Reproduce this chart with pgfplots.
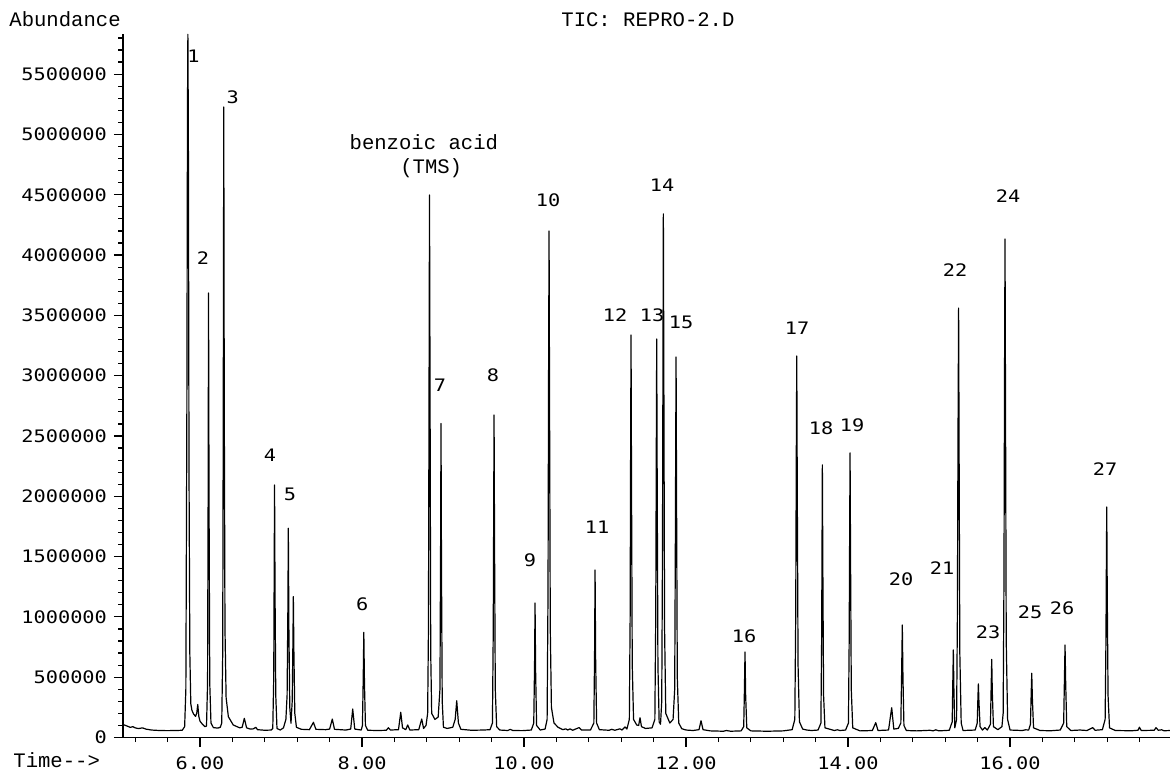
\documentclass[border=0pt]{standalone}
\usepackage{fontspec}
\usepackage{pgfplots}
\pgfplotsset{compat=1.18}
\setmainfont{Liberation Mono}
\newfontfamily\tickfont[FakeStretch=1.18]{DejaVu Sans Mono}
\newfontfamily\cour{Liberation Mono}
\newcommand\tf{\tickfont\fontsize{8.6}{10}\selectfont}
\newcommand\cf{\cour\fontsize{10.3}{12}\selectfont}
\begin{document}
\begin{tikzpicture}
\begin{axis}[
 at={(0,0)}, anchor=south west,
 scale only axis, width=523.5pt, height=351.75pt,
 xmin=5.049, xmax=17.975, ymin=0, ymax=5833000,
 axis x line*=bottom, axis y line*=left,
 axis line style={line width=0.7pt, -},
 clip=false,
 xtick={6,8,10,12,14,16},
 xticklabels={6.00,8.00,10.00,12.00,14.00,16.00},
 minor xtick={5.2,5.6,6.4,6.8,7.2,7.6,8.4,8.8,9.2,9.6,10.4,10.8,11.2,11.6,12.4,12.8,13.2,13.6,14.4,14.8,15.2,15.6,16.4,16.8,17.2,17.6},
 ytick={0,500000,1000000,1500000,2000000,2500000,3000000,3500000,4000000,4500000,5000000,5500000},
 yticklabels={0,500000,1000000,1500000,2000000,2500000,3000000,3500000,4000000,4500000,5000000,5500000},
 minor ytick={100000,200000,300000,400000,600000,700000,800000,900000,1100000,1200000,1300000,1400000,1600000,1700000,1800000,1900000,2100000,2200000,2300000,2400000,2600000,2700000,2800000,2900000,3100000,3200000,3300000,3400000,3600000,3700000,3800000,3900000,4100000,4200000,4300000,4400000,4600000,4700000,4800000,4900000,5100000,5200000,5300000,5400000,5600000,5700000,5800000},
 tick align=outside,
 major tick length=4.5pt, minor tick length=2.3pt,
 tick style={black, line width=0.6pt},
 ticklabel style={font=\tf},
 xticklabel style={yshift=-1.5pt},
 scaled y ticks=false,
]
\addplot[black, line width=0.6pt, line join=round] coordinates {
(5.049,108000)(5.08,100000)(5.11,92000)(5.14,84000)(5.17,90000)(5.20,80000)(5.24,74000)(5.29,80000)(5.33,70000)(5.40,62000)(5.50,58000)(5.60,57000)(5.70,58000)(5.78,60000)(5.81,90000)
(5.825,400000)(5.837,2600000)(5.845,5200000)(5.850,5830000)(5.856,5000000)(5.864,2200000)(5.874,700000)(5.886,280000)(5.90,225000)(5.92,195000)(5.945,175000)
(5.960,205000)(5.972,274000)(5.985,175000)(6.00,135000)(6.03,110000)(6.06,90000)
(6.080,95000)(6.093,450000)(6.100,2000000)(6.105,3686000)(6.111,2000000)(6.120,450000)(6.135,120000)(6.165,82000)(6.22,78000)(6.25,85000)
(6.268,120000)(6.280,700000)(6.287,2800000)(6.293,5228000)(6.299,2800000)(6.308,900000)(6.322,330000)(6.35,172000)(6.41,104000)(6.49,80000)(6.52,85000)
(6.547,159000)(6.575,80000)(6.62,70000)(6.66,72000)(6.688,85000)(6.71,65000)(6.80,60000)(6.88,62000)
(6.898,75000)(6.910,500000)(6.915,1300000)(6.920,2094000)(6.926,1200000)(6.935,350000)(6.950,75000)(6.99,62000)(7.03,80000)(7.06,150000)
(7.075,350000)(7.085,1100000)(7.090,1735000)(7.097,900000)(7.108,250000)(7.123,119000)
(7.138,300000)(7.147,800000)(7.152,1168000)(7.159,700000)(7.170,200000)(7.190,85000)(7.25,68000)(7.35,65000)
(7.40,126000)(7.43,68000)(7.55,65000)(7.60,70000)(7.633,153000)(7.66,68000)(7.80,62000)(7.86,70000)(7.885,236000)(7.91,70000)(7.99,62000)
(8.005,100000)(8.015,500000)(8.022,872000)(8.030,450000)(8.042,100000)(8.07,60000)(8.20,58000)(8.30,60000)(8.325,81000)(8.35,62000)(8.45,65000)(8.478,209000)(8.50,80000)(8.54,65000)(8.564,104000)(8.59,62000)(8.70,65000)(8.737,153000)(8.76,75000)(8.79,100000)
(8.810,200000)(8.820,900000)(8.827,2800000)(8.833,4498000)(8.840,2800000)(8.848,700000)(8.860,200000)(8.900,150000)(8.94,170000)
(8.962,400000)(8.970,1600000)(8.975,2604000)(8.981,1400000)(8.990,300000)(9.005,85000)(9.05,75000)(9.12,85000)
(9.150,150000)(9.169,305000)(9.190,120000)(9.22,68000)(9.35,60000)(9.50,62000)(9.58,65000)
(9.610,120000)(9.620,900000)(9.625,1800000)(9.630,2674000)(9.636,1600000)(9.645,400000)(9.662,90000)(9.70,62000)(9.80,58000)(9.83,68000)(9.86,58000)(9.98,57000)(10.09,62000)
(10.120,120000)(10.130,600000)(10.136,1115000)(10.143,550000)(10.155,100000)(10.20,62000)(10.26,70000)
(10.285,150000)(10.296,1200000)(10.303,3000000)(10.309,4200000)(10.315,2800000)(10.324,900000)(10.338,250000)(10.37,120000)(10.42,85000)(10.48,65000)(10.515,72000)(10.54,62000)(10.568,72000)(10.60,60000)(10.679,82000)(10.71,62000)(10.82,62000)
(10.862,120000)(10.871,700000)(10.877,1389000)(10.884,650000)(10.896,120000)(10.93,65000)(11.05,60000)(11.083,68000)(11.12,60000)(11.185,72000)(11.21,62000)(11.247,88000)(11.27,70000)
(11.300,150000)(11.310,1000000)(11.316,2400000)(11.321,3338000)(11.327,2100000)(11.336,600000)(11.352,150000)(11.391,104000)(11.415,100000)(11.432,164000)(11.45,90000)(11.50,75000)(11.58,80000)
(11.615,150000)(11.626,1000000)(11.633,2400000)(11.638,3304000)(11.644,2100000)(11.653,600000)(11.668,130000)(11.685,110000)
(11.700,300000)(11.709,1500000)(11.715,3100000)(11.720,4341000)(11.726,3000000)(11.735,900000)(11.750,200000)(11.80,120000)(11.84,150000)
(11.860,400000)(11.868,1600000)(11.873,2500000)(11.877,3155000)(11.883,2000000)(11.892,500000)(11.910,120000)(11.947,73000)(12.00,62000)(12.086,58000)(12.16,65000)
(12.185,139000)(12.21,65000)(12.30,55000)(12.46,52000)(12.50,58000)(12.55,52000)(12.68,55000)
(12.712,90000)(12.721,400000)(12.728,709000)(12.736,350000)(12.750,80000)(12.80,55000)(13.00,52000)(13.20,55000)(13.31,65000)
(13.343,150000)(13.354,1000000)(13.361,2300000)(13.367,3163000)(13.373,2100000)(13.383,600000)(13.400,130000)(13.44,70000)(13.49,62000)(13.55,58000)(13.63,62000)
(13.665,120000)(13.674,800000)(13.679,1600000)(13.683,2260000)(13.689,1400000)(13.698,350000)(13.715,80000)(13.778,68000)(13.83,58000)(13.868,64000)(13.90,58000)(13.97,62000)
(14.005,120000)(14.014,800000)(14.020,1700000)(14.025,2360000)(14.031,1500000)(14.040,400000)(14.058,80000)(14.148,55000)(14.30,58000)
(14.342,123000)(14.37,58000)(14.50,62000)(14.539,247000)(14.565,70000)(14.62,75000)
(14.652,120000)(14.662,550000)(14.670,933000)(14.678,500000)(14.690,100000)(14.72,58000)(14.85,55000)(15.012,60000)(15.05,55000)(15.083,64000)(15.12,55000)(15.25,60000)
(15.286,130000)(15.294,480000)(15.300,726000)(15.307,400000)(15.318,80000)
(15.340,150000)(15.350,1000000)(15.357,2400000)(15.365,3561000)(15.371,2400000)(15.380,700000)(15.397,120000)(15.42,58000)(15.57,62000)
(15.595,120000)(15.603,320000)(15.609,444000)(15.616,300000)(15.630,90000)(15.66,62000)(15.69,82000)(15.72,62000)
(15.758,110000)(15.767,420000)(15.774,648000)(15.781,380000)(15.795,90000)(15.85,65000)(15.90,90000)
(15.915,200000)(15.925,1300000)(15.932,3000000)(15.938,4134000)(15.944,2800000)(15.953,800000)(15.970,150000)(16.00,62000)(16.15,58000)(16.194,64000)(16.23,62000)
(16.252,110000)(16.261,360000)(16.268,532000)(16.276,320000)(16.290,80000)(16.37,58000)(16.50,56000)(16.62,62000)
(16.662,120000)(16.672,500000)(16.679,767000)(16.687,450000)(16.700,90000)(16.75,58000)(16.864,62000)(16.95,58000)(17.021,82000)(17.05,60000)(17.14,65000)
(17.174,150000)(17.184,800000)(17.189,1400000)(17.194,1911000)(17.200,1200000)(17.210,350000)(17.228,80000)(17.30,58000)(17.50,56000)(17.58,60000)(17.597,85000)(17.62,58000)(17.78,60000)(17.802,82000)(17.83,60000)(17.872,64000)(17.90,56000)(17.975,58000)
};
\begin{scope}[every node/.style={font=\tf, inner sep=0pt}]
\node at (axis cs:5.918,5651000) {1};
\node at (axis cs:6.037,3976000) {2};
\node at (axis cs:6.403,5308000) {3};
\node at (axis cs:6.864,2342000) {4};
\node at (axis cs:7.111,2019000) {5};
\node at (axis cs:8.004,1104000) {6};
\node at (axis cs:8.963,2923000) {7};
\node at (axis cs:9.617,3006000) {8};
\node at (axis cs:10.074,1472000) {9};
\node at (axis cs:10.296,4457000) {10};
\node at (axis cs:10.901,1745000) {11};
\node at (axis cs:11.123,3503000) {12};
\node at (axis cs:11.580,3503000) {13};
\node at (axis cs:11.704,4581000) {14};
\node at (axis cs:11.938,3445000) {15};
\node at (axis cs:12.716,842000) {16};
\node at (axis cs:13.370,3395000) {17};
\node at (axis cs:13.667,2566000) {18};
\node at (axis cs:14.049,2591000) {19};
\node at (axis cs:14.654,1314000) {20};
\node at (axis cs:15.160,1406000) {21};
\node at (axis cs:15.321,3877000) {22};
\node at (axis cs:15.728,875000) {23};
\node at (axis cs:15.975,4490000) {24};
\node at (axis cs:16.247,1041000) {25};
\node at (axis cs:16.642,1074000) {26};
\node at (axis cs:17.173,2227000) {27};
\end{scope}
\node[font=\cf, inner sep=0pt] at (axis cs:8.763,4940000) {benzoic acid};
\node[font=\cf, inner sep=0pt] at (axis cs:8.854,4720000) {(TMS)};
\end{axis}
\node[font=\cf, inner sep=0pt, anchor=base west] at (-57pt,355.4pt) {Abundance};
\node[font=\cf, inner sep=0pt, anchor=base west] at (219pt,355.7pt) {TIC: REPRO-2.D};
\node[font=\cf, inner sep=0pt, anchor=base west] at (-55pt,-15.2pt) {Time-{}->};
\pgfresetboundingbox
\path[use as bounding box] (-61.5pt,-17.25pt) rectangle (523.5pt,368.75pt);
\end{tikzpicture}
\end{document}
